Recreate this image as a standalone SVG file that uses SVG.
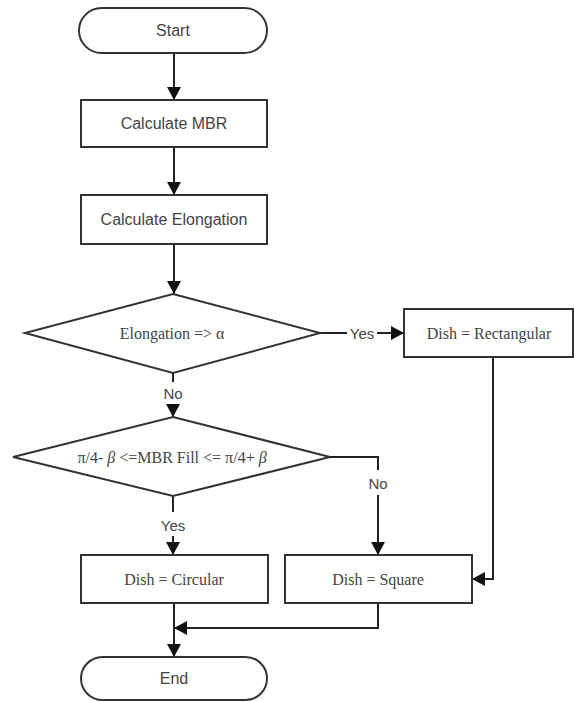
<svg xmlns="http://www.w3.org/2000/svg" width="574" height="702" viewBox="0 0 574 702">
<style>
.shape{fill:#fff;stroke:#333;stroke-width:2}
.conn{fill:none;stroke:#222;stroke-width:2}
.sans{font-family:"Liberation Sans",Arial,sans-serif;font-size:16px;fill:#444;text-anchor:middle;dominant-baseline:central}
.serif{font-family:"Liberation Serif","Times New Roman",serif;font-size:16px;fill:#444;text-anchor:middle;dominant-baseline:central}
.lbl{font-family:"Liberation Sans",Arial,sans-serif;font-size:15px;fill:#444;text-anchor:middle;dominant-baseline:central}
</style>
<defs>
<marker id="arr" markerWidth="13" markerHeight="14" refX="13" refY="7" orient="auto" markerUnits="userSpaceOnUse">
<path d="M0,0 L13,7 L0,14 z" fill="#111"/>
</marker>
</defs>
<rect width="574" height="702" fill="#fff"/>
<g id="connectors">
<path class="conn" d="M174,53 V100" marker-end="url(#arr)"/>
<path class="conn" d="M174,147 V195" marker-end="url(#arr)"/>
<path class="conn" d="M174,244 V294" marker-end="url(#arr)"/>
<path class="conn" d="M320,333 H347"/>
<text class="lbl" x="362" y="333">Yes</text>
<path class="conn" d="M377,333 H404" marker-end="url(#arr)"/>
<path class="conn" d="M173,373 V382"/>
<text class="lbl" x="173" y="393">No</text>
<path class="conn" d="M173,404 V417" marker-end="url(#arr)"/>
<path class="conn" d="M173,496 V512"/>
<text class="lbl" x="173" y="525">Yes</text>
<path class="conn" d="M173,536 V555" marker-end="url(#arr)"/>
<path class="conn" d="M330,457 H378 V470"/>
<text class="lbl" x="378" y="483">No</text>
<path class="conn" d="M378,495 V555" marker-end="url(#arr)"/>
<path class="conn" d="M493,357 V579 H472" marker-end="url(#arr)"/>
<path class="conn" d="M174,603 V657" marker-end="url(#arr)"/>
<path class="conn" d="M378,603 V628 H174" marker-end="url(#arr)"/>
</g>
<g id="start">
<rect class="shape" x="79" y="8" width="188" height="45" rx="22.5"/>
<text class="sans" x="173" y="30.5">Start</text>
</g>
<g id="calc-mbr">
<rect class="shape" x="81" y="100" width="186" height="47"/>
<text class="sans" x="174" y="123.5">Calculate MBR</text>
</g>
<g id="calc-elongation">
<rect class="shape" x="81" y="195" width="186" height="49"/>
<text class="sans" x="174" y="219.5">Calculate Elongation</text>
</g>
<g id="decision-elongation">
<polygon class="shape" points="173,294 320,333 173,373 25,333"/>
<text class="serif" x="172" y="333">Elongation =&gt; α</text>
</g>
<g id="dish-rectangular">
<rect class="shape" x="404" y="309" width="169" height="48"/>
<text class="serif" x="489" y="333">Dish = Rectangular</text>
</g>
<g id="decision-fill">
<polygon class="shape" points="173,417 330,457 173,496 13,457"/>
<text class="serif" x="172" y="457">π/4- <tspan font-style="italic">β</tspan> &lt;=MBR Fill &lt;= π/4+ <tspan font-style="italic">β</tspan></text>
</g>
<g id="dish-circular">
<rect class="shape" x="81" y="555" width="187" height="48"/>
<text class="serif" x="174" y="579">Dish = Circular</text>
</g>
<g id="dish-square">
<rect class="shape" x="285" y="555" width="187" height="48"/>
<text class="serif" x="378" y="579">Dish = Square</text>
</g>
<g id="end">
<rect class="shape" x="81" y="657" width="186" height="43" rx="21.5"/>
<text class="sans" x="174" y="678.5">End</text>
</g>
</svg>
